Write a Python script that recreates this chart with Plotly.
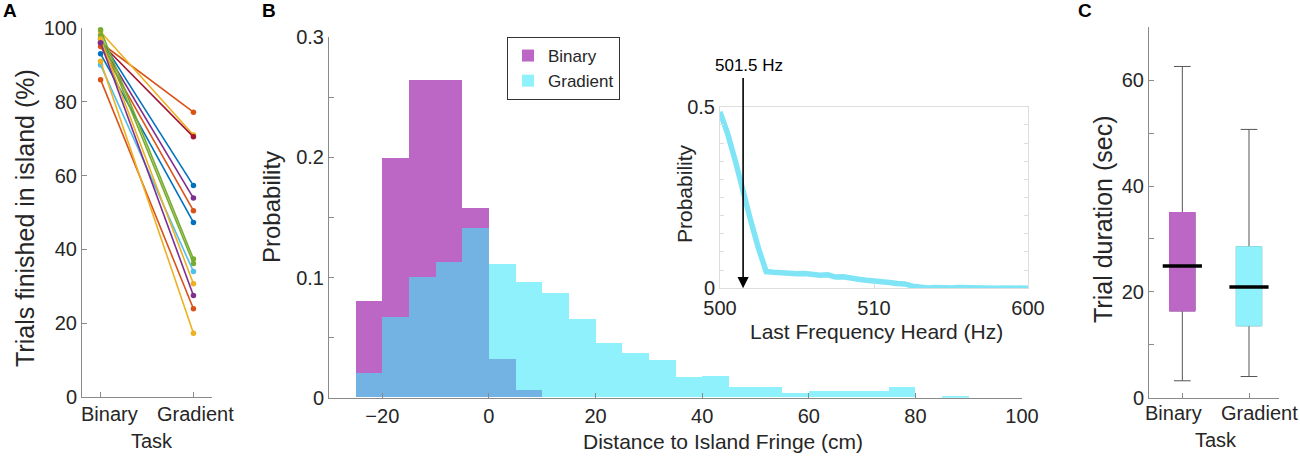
import plotly.graph_objects as go

W, H = 1300, 463
FONT = "Liberation Sans, Arial, sans-serif"
AX = "#8a8a8a"
TXT = "#262626"

# ---------------- Panel A data ----------------
tasks = ["Binary", "Gradient"]
binary_pct = [96, 99, 96, 97, 96, 95, 93, 99.5, 98, 90, 97, 96, 86, 91]
gradient_pct = [77.2, 71, 70.5, 57.3, 53.9, 50.5, 47.3, 37.4, 36.2, 34.0, 30.7, 27.5, 23.9, 17.3]
subject_colors = ["#D95319", "#EDB120", "#A2142F", "#0072BD", "#7E2F8E", "#D95319", "#0072BD",
                  "#77AC30", "#77AC30", "#4DBEEE", "#EDB120", "#7E2F8E", "#D95319", "#EDB120"]
a_yticks = [0, 20, 40, 60, 80, 100]

# ---------------- Panel B data ----------------
bin_width = 5
bin_left = [-25, -20, -15, -10, -5, 0, 5, 10, 15, 20, 25, 30, 35, 40, 45, 50, 55, 60, 65, 70, 75, 80, 85]
binary_prob = [0.080, 0.199, 0.264, 0.264, 0.158, 0.032, 0.006, 0, 0, 0, 0, 0, 0, 0, 0, 0, 0, 0, 0, 0, 0, 0, 0]
gradient_prob = [0.020, 0.067, 0.100, 0.113, 0.141, 0.111, 0.096, 0.087, 0.065, 0.045, 0.037, 0.031,
                 0.017, 0.018, 0.009, 0.009, 0.004, 0.005, 0.005, 0.005, 0.009, 0.0, 0.0015]
b_xticks = [-20, 0, 20, 40, 60, 80, 100]
b_yticks = [0, 0.05, 0.1, 0.15, 0.2, 0.25, 0.3]
b_yticklabels = ["0", "", "0.1", "", "0.2", "", "0.3"]

# ---------------- Inset data ----------------
inset_idx = list(range(41))
inset_prob = [0.486, 0.425, 0.350, 0.262, 0.185, 0.110, 0.046, 0.044, 0.042, 0.041, 0.040,
              0.041, 0.038, 0.036, 0.037, 0.031, 0.032, 0.027, 0.025, 0.022, 0.021, 0.018,
              0.016, 0.013, 0.012, 0.006, 0.003, 0.001, 0.002, 0.000, 0.001, 0.002, 0.001,
              0.000, 0.001, 0.001, 0.000, 0.001, 0.000, 0.001, 0.000]
inset_tickpos = [0, 20, 40]
inset_ticklabels = ["500", "510", "600"]
arrow_freq = 501.5
arrow_label = "501.5 Hz"
arrow_idx = (arrow_freq - 500) / 10 * 20
arrow_top = 0.583

# ---------------- Panel C data ----------------
c_pos = [1, 2]
c_q1 = [16.4, 13.6]
c_median = [24.9, 20.9]
c_q3 = [35.0, 28.5]
c_low = [3.2, 4.0]
c_high = [62.6, 50.7]
c_colors = ["#BC66C6", "#8FF1FB"]

PURPLE = "#BC66C6"
CYAN = "#8FF1FB"
OVERLAP = "#72B3E3"


def px_x(p):
    return p / W


def px_y(p):
    return 1 - p / H


fig = go.Figure()

# Panel A lines
for b, g, c in zip(binary_pct, gradient_pct, subject_colors):
    fig.add_trace(go.Scatter(x=[1, 2], y=[b, g], mode="lines+markers",
                             line=dict(color=c, width=1.6), marker=dict(color=c, size=5.5),
                             showlegend=False, cliponaxis=False, xaxis="x", yaxis="y"))

# Panel B histogram
centers = [l + bin_width / 2 for l in bin_left]
overlap = [min(a, b) for a, b in zip(binary_prob, gradient_prob)]
fig.add_trace(go.Bar(x=centers, y=binary_prob, width=bin_width, marker=dict(color=PURPLE, line=dict(width=0)),
                     name="Binary", xaxis="x2", yaxis="y2"))
fig.add_trace(go.Bar(x=centers, y=gradient_prob, width=bin_width, marker=dict(color=CYAN, line=dict(width=0)),
                     name="Gradient", xaxis="x2", yaxis="y2"))
fig.add_trace(go.Bar(x=centers, y=overlap, width=bin_width, marker=dict(color=OVERLAP, line=dict(width=0)),
                     name="overlap", showlegend=False, xaxis="x2", yaxis="y2"))

# Inset line
fig.add_trace(go.Scatter(x=inset_idx, y=inset_prob, mode="lines",
                         line=dict(color="rgba(120,228,246,0.95)", width=5.5),
                         showlegend=False, cliponaxis=False, xaxis="x3", yaxis="y3"))
fig.add_trace(go.Scatter(x=[arrow_idx], y=[arrow_top], mode="markers",
                         marker=dict(symbol="line-ew", size=9, line=dict(color="black", width=1.5)),
                         showlegend=False, cliponaxis=False, xaxis="x3", yaxis="y3"))

# Panel C boxes
for i in range(2):
    fig.add_trace(go.Box(x=[c_pos[i]], q1=[c_q1[i]], median=[c_median[i]], q3=[c_q3[i]],
                         lowerfence=[c_low[i]], upperfence=[c_high[i]], width=0.38, whiskerwidth=0.66,
                         fillcolor=c_colors[i], line=dict(color="#555555", width=1),
                         showlegend=False, xaxis="x4", yaxis="y4"))
    fig.add_trace(go.Box(x=[c_pos[i]], q1=[c_q1[i]], median=[c_median[i]], q3=[c_q3[i]],
                         lowerfence=[c_q1[i]], upperfence=[c_q3[i]], width=0.38, whiskerwidth=0,
                         fillcolor=c_colors[i], line=dict(color=c_colors[i], width=1.2),
                         showlegend=False, xaxis="x4", yaxis="y4"))
fig.add_trace(go.Scatter(x=c_pos, y=c_median, mode="markers",
                         marker=dict(symbol="line-ew", size=28, line=dict(color="black", width=3.5)),
                         showlegend=False, xaxis="x4", yaxis="y4"))

common = dict(showline=True, linecolor=AX, linewidth=1, ticks="inside", tickcolor=AX, ticklen=5,
              showgrid=False, zeroline=False, automargin=False, tickangle=0,
              tickfont=dict(size=20, color=TXT, family=FONT))
inset_common = dict(showline=True, linecolor="#dddddd", linewidth=1, ticks="inside",
                    tickcolor="#dddddd", ticklen=4, showgrid=False, zeroline=False, automargin=False,
                    tickangle=0, tickfont=dict(size=20, color=TXT, family=FONT))

fig.update_layout(
    width=W, height=H, margin=dict(l=0, r=0, t=0, b=0, pad=0, autoexpand=False),
    paper_bgcolor="white", plot_bgcolor="white",
    font=dict(family=FONT, color=TXT),
    barmode="overlay", boxmode="overlay", bargap=0,
    showlegend=True,
    legend=dict(x=px_x(507), y=px_y(37), xanchor="left", yanchor="top",
                bordercolor="#333333", borderwidth=1, bgcolor="white",
                font=dict(size=17, color=TXT, family=FONT), tracegroupgap=0),
    xaxis=dict(domain=[px_x(82), px_x(212)], range=[0.8, 2.2], tickvals=[1, 2],
               ticktext=["", ""], anchor="y", **common),
    yaxis=dict(domain=[px_y(397), px_y(28)], range=[0, 100], tickvals=a_yticks, anchor="x", **common),
    xaxis2=dict(domain=[px_x(329), px_x(1022)], range=[-30, 100], tickvals=b_xticks, anchor="y2", **common),
    yaxis2=dict(domain=[px_y(397.7), px_y(37.3)], range=[0, 0.3], tickvals=b_yticks, ticktext=b_yticklabels,
                anchor="x2", **common),
    xaxis3=dict(domain=[px_x(720), px_x(1028)], range=[0, 40], tickvals=inset_tickpos, ticktext=inset_ticklabels,
                anchor="y3", mirror=True, ticklabelstandoff=2, **inset_common),
    yaxis3=dict(domain=[px_y(288.3), px_y(106.7)], range=[0, 0.5],
                tickvals=[0, 0.05, 0.1, 0.15, 0.2, 0.25, 0.3, 0.35, 0.4, 0.45, 0.5],
                ticktext=["0", "", "", "", "", "", "", "", "", "", "0.5"],
                anchor="x3", mirror="ticks", **inset_common),
    xaxis4=dict(domain=[px_x(1149), px_x(1279)], range=[0.5, 2.45], tickvals=c_pos,
                ticktext=["", ""], anchor="y4", **common),
    yaxis4=dict(domain=[px_y(397.7), px_y(27.3)], range=[0, 70], tickvals=[0, 10, 20, 30, 40, 50, 60],
                ticktext=["0", "", "20", "", "40", "", "60"], anchor="x4", **common),
)

ann = []


def text(x, y, s, size, angle=0, bold=False, xanchor="center", yanchor="middle", color=TXT):
    ann.append(dict(x=px_x(x), y=px_y(y), xref="paper", yref="paper", text=("<b>%s</b>" % s) if bold else s,
                    showarrow=False, textangle=angle, xanchor=xanchor, yanchor=yanchor,
                    font=dict(size=size, color=color, family=FONT)))


text(1, 10, "A", 19, bold=True, xanchor="left", color="black")
text(260, 10, "B", 19, bold=True, xanchor="left", color="black")
text(1076, 10, "C", 19, bold=True, xanchor="left", color="black")
# category labels (task names) placed where the reference shows them
text(109, 414, tasks[0], 20)
text(195, 414, tasks[1], 20)
text(1173, 413, tasks[0], 20)
text(1259, 413, tasks[1], 20)
text(25, 218, "Trials finished in island (%)", 25, angle=-90)
text(152, 441, "Task", 20)
text(271, 207, "Probability", 24, angle=-90)
text(723, 441, "Distance to Island Fringe (cm)", 21)
text(684, 194, "Probability", 21, angle=-90)
text(876, 331, "Last Frequency Heard (Hz)", 21)
text(1103, 220, "Trial duration (sec)", 25, angle=-90)
text(1216, 440, "Task", 20)
text(749, 66, arrow_label, 17, color="black")

ann.append(dict(x=arrow_idx, y=0, xref="x3", yref="y3", ax=arrow_idx, ay=arrow_top, axref="x3", ayref="y3",
                showarrow=True, arrowhead=2, arrowsize=1.4, arrowwidth=1.6, arrowcolor="black", text=""))

fig.update_layout(annotations=ann)
fig.write_html("out.html", config={"displayModeBar": False},
               post_script="document.body.style.margin='0px';document.body.style.overflow='hidden';")
